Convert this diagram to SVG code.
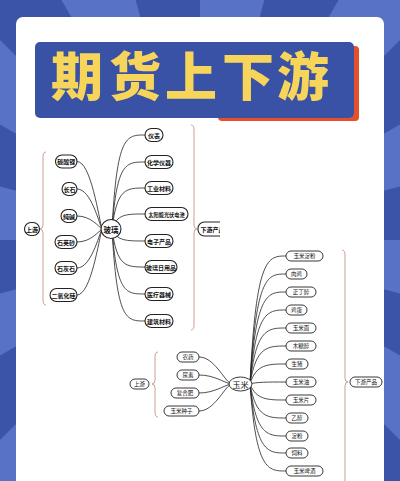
<svg xmlns="http://www.w3.org/2000/svg" width="400" height="481" viewBox="0 0 400 481">
<defs>
<style>
.bgl{fill:#5873c5}
.n rect,.n ellipse{fill:#fff;stroke:#222;stroke-width:0.9}
.g rect,.g ellipse{stroke-width:1.1}
.g text{font-family:"Noto Sans CJK SC","Noto Sans",sans-serif;font-size:6px;font-weight:700;fill:#111;text-anchor:middle;dominant-baseline:central}
.c text{font-family:"Noto Sans CJK SC","Noto Sans",sans-serif;font-size:5.5px;font-weight:400;fill:#111;text-anchor:middle;dominant-baseline:central}
.conn path{fill:none;stroke:#222;stroke-width:0.8}
.brace{fill:none;stroke:#b5756a;stroke-width:0.7}
.tt{font-family:"Noto Sans CJK SC",sans-serif;font-size:52px;font-weight:900;fill:#f7d55b;text-anchor:middle}
</style>
<clipPath id="glassClip"><rect x="18" y="120" width="202" height="215"/></clipPath>
</defs>
<g id="background">
<rect x="0" y="0" width="400" height="481" fill="#3b54a7"/>
<polygon class="bgl" points="200,240 800,240 779.6,395.3"/>
<polygon class="bgl" points="200,240 719.6,540 624.3,664.3"/>
<polygon class="bgl" points="200,240 500,759.6 355.3,819.6"/>
<polygon class="bgl" points="200,240 200,840 44.7,819.6"/>
<polygon class="bgl" points="200,240 -100,759.6 -224.3,664.3"/>
<polygon class="bgl" points="200,240 -319.6,540 -379.6,395.3"/>
<polygon class="bgl" points="200,240 -400,240 -379.6,84.7"/>
<polygon class="bgl" points="200,240 -319.6,-60 -224.3,-184.3"/>
<polygon class="bgl" points="200,240 -100,-279.6 44.7,-339.6"/>
<polygon class="bgl" points="200,240 200,-360 355.3,-339.6"/>
<polygon class="bgl" points="200,240 500,-279.6 624.3,-184.3"/>
<polygon class="bgl" points="200,240 719.6,-60 779.6,84.7"/>
<rect x="16" y="17" width="368" height="480" rx="7" fill="#fff"/>
</g>
<g id="title">
<rect x="218" y="46" width="141" height="75" rx="4" fill="#e4502a"/>
<rect x="35" y="42" width="319" height="76" rx="5" fill="#3a52a5"/>
<text class="tt" x="77" y="96">期</text>
<text class="tt" x="135" y="96">货</text>
<text class="tt" x="191" y="96">上</text>
<text class="tt" x="248" y="96">下</text>
<text class="tt" x="303" y="96">游</text>
</g>
<g id="glass" clip-path="url(#glassClip)">
<g id="glass-connectors" class="conn">
<path d="M77 161.5 C91 161.5 99 219 102 229"/>
<path d="M77 189 C91 189 99 223 102 229"/>
<path d="M77 216 C91 216 99 227 102 229"/>
<path d="M77 242 C91 242 99 231 102 229"/>
<path d="M77 268 C91 268 99 235 102 229"/>
<path d="M77 295 C91 295 99 239 102 229"/>
<path d="M112 229 C117 135 126 135 145 135"/>
<path d="M112 229 C117 162 126 162 145 162"/>
<path d="M112 229 C117 188 126 188 145 188"/>
<path d="M112 229 C117 214 126 214 145 214"/>
<path d="M112 229 C117 241 126 241 145 241"/>
<path d="M112 229 C117 267 126 267 145 267"/>
<path d="M112 229 C117 294 126 294 145 294"/>
<path d="M112 229 C117 321 126 321 145 321"/>
</g>
<path class="brace" d="M46 152 Q43 152 43 157 L43 225 Q43 229 40 229 Q43 229 43 233 L43 300 Q43 305 46 305"/>
<path class="brace" d="M191 125 Q194 125 194 130 L194 225 Q194 229 197 229 Q194 229 194 233 L194 325 Q194 330 191 330"/>
<g id="g-center" class="n g"><ellipse cx="111" cy="229" rx="10" ry="9.5"/><text x="111" y="229" style="font-size:7.5px">玻璃</text></g>
<g id="g-up" class="n g"><rect x="24.5" y="222.5" width="15" height="13" rx="6.5"/><text x="32" y="229">上游</text></g>
<g id="g-u1" class="n g"><rect x="55.5" y="155" width="21.5" height="13" rx="6.5"/><text x="66.25" y="161.5">碳酸锂</text></g>
<g id="g-u2" class="n g"><rect x="62" y="182.5" width="15" height="13" rx="6.5"/><text x="69.5" y="189">长石</text></g>
<g id="g-u3" class="n g"><rect x="61" y="209.5" width="16" height="13" rx="6.5"/><text x="69" y="216">纯碱</text></g>
<g id="g-u4" class="n g"><rect x="55" y="235.5" width="22" height="13" rx="6.5"/><text x="66" y="242">石英砂</text></g>
<g id="g-u5" class="n g"><rect x="55" y="261.5" width="22" height="13" rx="6.5"/><text x="66" y="268">石灰石</text></g>
<g id="g-u6" class="n g"><rect x="50" y="288.5" width="27" height="13" rx="6.5"/><text x="63.5" y="295">二氧化硅</text></g>
<g id="g-d1" class="n g"><rect x="145" y="128.5" width="18" height="13" rx="6.5"/><text x="154" y="135">仪表</text></g>
<g id="g-d2" class="n g"><rect x="145" y="155.5" width="28" height="13" rx="6.5"/><text x="159" y="162">化学仪器</text></g>
<g id="g-d3" class="n g"><rect x="145" y="181.5" width="28" height="13" rx="6.5"/><text x="159" y="188">工业材料</text></g>
<g id="g-d4" class="n g"><rect x="145" y="207.5" width="43" height="13" rx="6.5"/><text x="166.5" y="214" style="font-size:5.2px">太阳能光伏电池</text></g>
<g id="g-d5" class="n g"><rect x="145" y="234.5" width="28" height="13" rx="6.5"/><text x="159" y="241">电子产品</text></g>
<g id="g-d6" class="n g"><rect x="145" y="260.5" width="32" height="13" rx="6.5"/><text x="161" y="267">玻璃日用品</text></g>
<g id="g-d7" class="n g"><rect x="145" y="287.5" width="28" height="13" rx="6.5"/><text x="159" y="294">医疗器械</text></g>
<g id="g-d8" class="n g"><rect x="145" y="314.5" width="28" height="13" rx="6.5"/><text x="159" y="321">建筑材料</text></g>
<g id="g-down" class="n g"><rect x="198" y="222" width="29" height="14" rx="6.5"/><text x="212.5" y="229">下游产品</text></g>
</g>
<g id="corn">
<g id="corn-connectors" class="conn">
<path d="M199 357 C214 357 224 380 231 384"/>
<path d="M199 375 C214 375 224 382.6 231 384"/>
<path d="M199 393 C214 393 224 385.4 231 384"/>
<path d="M199 411 C214 411 224 388 231 384"/>
<path d="M250 384 C256 256 268 256 286 256"/>
<path d="M250 384 C256 274 268 274 286 274"/>
<path d="M250 384 C256 292 268 292 286 292"/>
<path d="M250 384 C256 310 268 310 286 310"/>
<path d="M250 384 C256 328 268 328 286 328"/>
<path d="M250 384 C256 346 268 346 286 346"/>
<path d="M250 384 C256 364 268 364 286 364"/>
<path d="M250 384 C256 382 268 382 286 382"/>
<path d="M250 384 C256 400 268 400 286 400"/>
<path d="M250 384 C256 418 268 418 286 418"/>
<path d="M250 384 C256 436 268 436 286 436"/>
<path d="M250 384 C256 453 268 453 286 453"/>
<path d="M250 384 C256 471 268 471 286 471"/>
</g>
<path class="brace" d="M158 352 Q155 352 155 357 L155 380 Q155 384 152 384 Q155 384 155 388 L155 412 Q155 417 158 417"/>
<path class="brace" d="M342 250 Q345 250 345 255 L345 378 Q345 382 348 382 Q345 382 345 386 L345 490"/>
<g id="c-center" class="n c"><ellipse cx="240.5" cy="384" rx="11.5" ry="7"/><text x="240.5" y="384" style="font-size:8px">玉米</text></g>
<g id="c-up" class="n c"><rect x="130" y="379" width="19" height="10" rx="5"/><text x="139.5" y="384">上游</text></g>
<g id="c-u1" class="n c"><rect x="177" y="352" width="22" height="10" rx="5"/><text x="188" y="357">农药</text></g>
<g id="c-u2" class="n c"><rect x="177" y="370" width="22" height="10" rx="5"/><text x="188" y="375">尿素</text></g>
<g id="c-u3" class="n c"><rect x="171" y="388" width="28" height="10" rx="5"/><text x="185" y="393">复合肥</text></g>
<g id="c-u4" class="n c"><rect x="164" y="406" width="35" height="10" rx="5"/><text x="181.5" y="411">玉米种子</text></g>
<g id="c-d1" class="n c"><rect x="286" y="251" width="37" height="10" rx="5"/><text x="304.5" y="256">玉米淀粉</text></g>
<g id="c-d2" class="n c"><rect x="286" y="269" width="21" height="10" rx="5"/><text x="296.5" y="274">肉鸡</text></g>
<g id="c-d3" class="n c"><rect x="286" y="287" width="30" height="10" rx="5"/><text x="301" y="292">正丁醇</text></g>
<g id="c-d4" class="n c"><rect x="286" y="305" width="21" height="10" rx="5"/><text x="296.5" y="310">鸡蛋</text></g>
<g id="c-d5" class="n c"><rect x="286" y="323" width="30" height="10" rx="5"/><text x="301" y="328">玉米面</text></g>
<g id="c-d6" class="n c"><rect x="286" y="341" width="30" height="10" rx="5"/><text x="301" y="346">木糖醇</text></g>
<g id="c-d7" class="n c"><rect x="286" y="359" width="22" height="10" rx="5"/><text x="297" y="364">生猪</text></g>
<g id="c-d8" class="n c"><rect x="286" y="377" width="30" height="10" rx="5"/><text x="301" y="382">玉米油</text></g>
<g id="c-d9" class="n c"><rect x="286" y="395" width="30" height="10" rx="5"/><text x="301" y="400">玉米片</text></g>
<g id="c-d10" class="n c"><rect x="286" y="413" width="22" height="10" rx="5"/><text x="297" y="418">乙醇</text></g>
<g id="c-d11" class="n c"><rect x="286" y="431" width="22" height="10" rx="5"/><text x="297" y="436">淀粉</text></g>
<g id="c-d12" class="n c"><rect x="286" y="448" width="22" height="10" rx="5"/><text x="297" y="453">饲料</text></g>
<g id="c-d13" class="n c"><rect x="286" y="466" width="37" height="10" rx="5"/><text x="304.5" y="471">玉米啤酒</text></g>
<g id="c-down" class="n c"><rect x="350" y="377" width="32" height="10" rx="5"/><text x="366" y="382">下游产品</text></g>
</g>
</svg>
